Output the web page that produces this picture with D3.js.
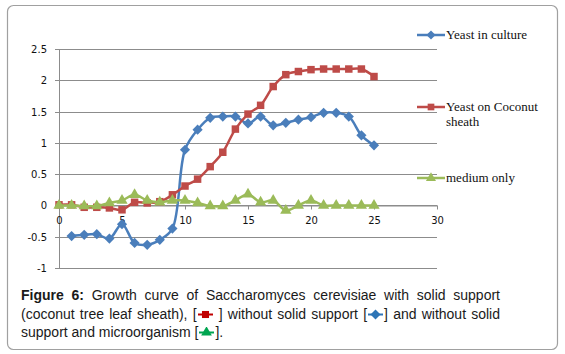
<!DOCTYPE html>
<html>
<head>
<meta charset="utf-8">
<script src="https://cdn.jsdelivr.net/npm/d3@7"></script>
<style>
  body { margin: 0; background: #fff; }
  #wrap { position: relative; width: 565px; height: 354px; }
  #chart { position: absolute; left: 0; top: 0; }
  #caption {
    position: absolute; left: 21px; top: 286px; width: 479px;
    font-family: "Liberation Sans", Arial, sans-serif; font-size: 14px;
    line-height: 18.5px; color: #1a1a1a; text-align: justify;
  }
  #caption svg { vertical-align: -1px; }
</style>
</head>
<body>
<div id="wrap">
  <svg id="chart" width="565" height="354"></svg>
  <div id="caption"></div>
</div>
<script>
const dias = d3.range(0, 26);
const levaduraCultivo = [null, -0.49, -0.47, -0.46, -0.53, -0.30, -0.60, -0.63, -0.55, -0.37,
  0.89, 1.21, 1.40, 1.42, 1.42, 1.31, 1.42, 1.28, 1.32, 1.37, 1.41, 1.48, 1.48, 1.42, 1.12, 0.96];
const levaduraCoco = [0.01, 0.01, -0.03, -0.03, -0.04, -0.07, 0.05, 0.04, 0.06, 0.17,
  0.31, 0.42, 0.62, 0.85, 1.22, 1.46, 1.60, 1.90, 2.09, 2.14, 2.17, 2.18, 2.18, 2.18, 2.18, 2.06];
const medioSolo = [0, 0, -0.01, -0.01, 0.04, 0.08, 0.17, 0.08, 0.05, 0.08,
  0.08, 0.04, -0.01, -0.01, 0.08, 0.18, 0.05, 0.08, -0.08, 0, 0.08, 0, 0, 0, 0, 0];
const ticksX = [0, 5, 10, 15, 20, 25, 30];
const ticksY = [-1, -0.5, 0, 0.5, 1, 1.5, 2, 2.5];

// rombo tipo Excel: cuadrado girado 45 grados
const rombo = {
  draw(ctx, size) {
    const r = Math.sqrt(size / 2);
    ctx.moveTo(0, -r); ctx.lineTo(r, 0); ctx.lineTo(0, r); ctx.lineTo(-r, 0); ctx.closePath();
  }
};

const series = [
  { nombre: ["Yeast in culture"], valores: levaduraCultivo, color: "#4A7EBB", marca: rombo, tam: 52 },
  { nombre: ["Yeast on Coconut", "sheath"], valores: levaduraCoco, color: "#BE4B48", marca: d3.symbolSquare, tam: 56 },
  { nombre: ["medium only"], valores: medioSolo, color: "#9BBB59", marca: d3.symbolTriangle, tam: 55 }
];

const svg = d3.select("#chart");

// marco
svg.append("rect")
  .attr("x", 7.5).attr("y", 5.5).attr("width", 550).attr("height", 344)
  .attr("rx", 6).attr("fill", "#fff").attr("stroke", "#a0a0a0").attr("stroke-width", 1.2);

const x = d3.scaleLinear().domain([0, 30]).range([59, 437]);
const y = d3.scaleLinear().domain([-1, 2.5]).range([268, 49]);

// rejilla
svg.append("g").selectAll("line")
  .data(ticksY)
  .join("line")
  .attr("x1", x(0) - 4).attr("x2", x(30))
  .attr("y1", d => Math.round(y(d)) + 0.5).attr("y2", d => Math.round(y(d)) + 0.5)
  .attr("stroke", "#8c8c8c").attr("stroke-width", 1);

// eje Y
svg.append("line")
  .attr("x1", x(0) + 0.5).attr("x2", x(0) + 0.5)
  .attr("y1", y(2.5)).attr("y2", y(-1))
  .attr("stroke", "#8c8c8c");

// eje X en cero
const ejeX = svg.append("g")
  .attr("transform", `translate(0,${Math.round(y(0)) + 0.5})`)
  .call(d3.axisBottom(x).tickValues(ticksX).tickSize(4).tickSizeOuter(0).tickPadding(7));
ejeX.select(".domain").attr("stroke", "#8c8c8c");
ejeX.selectAll(".tick line").attr("stroke", "#8c8c8c");
ejeX.selectAll("text")
  .style("font-family", "'DejaVu Sans', Verdana, sans-serif")
  .style("font-size", "10px").attr("fill", "#111");

// etiquetas Y
svg.append("g").selectAll("text")
  .data(ticksY)
  .join("text")
  .attr("x", 47).attr("y", d => y(d) + 4)
  .attr("text-anchor", "end")
  .style("font-family", "'DejaVu Sans', Verdana, sans-serif")
  .style("font-size", "10px").attr("fill", "#111")
  .text(d => d);

const linea = d3.line()
  .defined(d => d !== null)
  .x((d, i) => x(dias[i]))
  .y(d => y(d))
  .curve(d3.curveCatmullRom.alpha(0.5));

series.forEach(s => {
  svg.append("path")
    .datum(s.valores)
    .attr("d", linea)
    .attr("fill", "none").attr("stroke", s.color).attr("stroke-width", 2.5);
  svg.append("g").selectAll("path")
    .data(s.valores.map((v, i) => ({ dia: dias[i], v })).filter(d => d.v !== null))
    .join("path")
    .attr("transform", d => `translate(${x(d.dia)},${y(d.v)})`)
    .attr("d", d3.symbol().type(s.marca).size(s.tam))
    .attr("fill", s.color);
});

// leyenda
const leyendaY = [35, 107, 178];
series.forEach((s, i) => {
  const g = svg.append("g").attr("transform", `translate(417,${leyendaY[i]})`);
  g.append("line").attr("x1", 0).attr("x2", 28).attr("stroke", s.color).attr("stroke-width", 2.5);
  g.append("path").attr("transform", "translate(14,0)")
    .attr("d", d3.symbol().type(s.marca).size(s.tam * 0.8))
    .attr("fill", s.color);
  s.nombre.forEach((t, j) => {
    g.append("text")
      .attr("x", 29).attr("y", 4 + j * 15)
      .style("font-family", "'Liberation Serif', 'Times New Roman', serif")
      .style("font-size", "13px").attr("fill", "#111")
      .text(t);
  });
});

// pie de figura
function icono(color, forma) {
  const w = 17, h = 11;
  const s = d3.create("svg").attr("width", w).attr("height", h);
  s.append("line").attr("x1", 1).attr("x2", w - 1).attr("y1", h / 2).attr("y2", h / 2)
    .attr("stroke", color).attr("stroke-width", 2);
  s.append("path").attr("transform", `translate(${w / 2},${h / 2})`)
    .attr("d", d3.symbol().type(forma).size(50)).attr("fill", color);
  return s.node().outerHTML;
}
d3.select("#caption").html(
  `<b>Figure 6:</b> Growth curve of Saccharomyces cerevisiae with solid support ` +
  `(coconut tree leaf sheath), [${icono("#c00000", d3.symbolSquare)} ] without solid support ` +
  `[${icono("#2e75b6", rombo)}] and without solid ` +
  `support and microorganism [${icono("#00a550", d3.symbolTriangle)}].`
);
</script>
</body>
</html>
